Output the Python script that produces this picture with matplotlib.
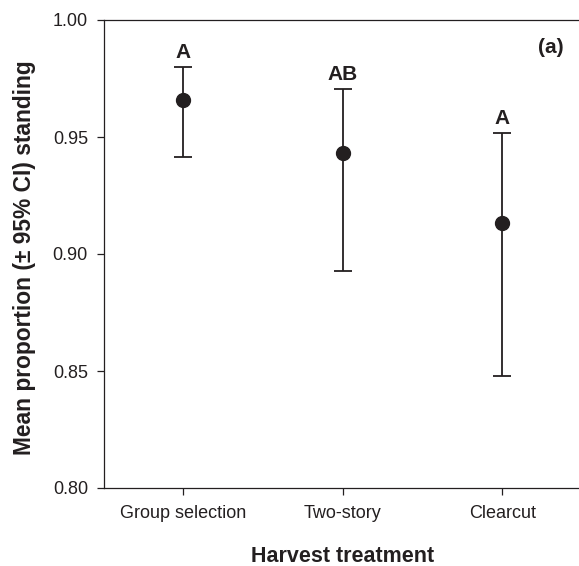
import matplotlib
matplotlib.use("Agg")
import matplotlib.pyplot as plt

plt.rcParams['font.family'] = ['Liberation Sans', 'DejaVu Sans']

categories = ["Group selection", "Two-story", "Clearcut"]
means = [0.9658, 0.9433, 0.9131]
ci_upper = [0.9800, 0.9707, 0.9518]
ci_lower = [0.9413, 0.8929, 0.8479]
letters = ["A", "AB", "A"]
yticks = [0.80, 0.85, 0.90, 0.95, 1.00]

color = "#231f20"
W, H = 579, 566
fig = plt.figure(figsize=(W / 100, H / 100), dpi=100)
left, right, top, bottom = 103.5, 582.0, 20.0, 488.0
ax = fig.add_axes([left / W, 1 - bottom / H, (right - left) / W, (bottom - top) / H])

x = list(range(1, len(categories) + 1))
yerr = [[m - lo for m, lo in zip(means, ci_lower)],
        [hi - m for m, hi in zip(means, ci_upper)]]
ax.errorbar(x, means, yerr=yerr, fmt='o', color=color, ecolor=color,
            markersize=10, elinewidth=1.3, capsize=6.7, capthick=1.3, zorder=3)

for xi, hi, lab in zip(x, ci_upper, letters):
    ax.annotate(lab, xy=(xi, hi), xytext=(0, 6.5), textcoords='offset points',
                ha='center', va='baseline', fontsize=15, fontweight='bold', color=color)

ax.set_xlim(0.5, 3.5)
ax.set_ylim(0.80, 1.00)
ax.set_xticks(x)
ax.set_xticklabels(categories)
ax.set_yticks(yticks)
ax.set_yticklabels([f"{v:.2f}" for v in yticks])

for s in ax.spines.values():
    s.set_linewidth(0.9)
    s.set_color(color)
ax.tick_params(axis='both', direction='out', length=4.7, width=0.9, color=color,
               labelsize=13, labelcolor=color)
ax.tick_params(axis='y', pad=6.5)
ax.tick_params(axis='x', pad=7.5)

fig.text(25 / W, 0.545, "Mean proportion (\u00b1 95% CI) standing", rotation=90,
         ha='center', va='center', fontsize=16.4, fontweight='bold', color=color)
fig.text(343 / W, 1 - 562 / H, "Harvest treatment", ha='center', va='baseline',
         fontsize=15.5, fontweight='bold', color=color)
fig.text(564 / W, 1 - 53.3 / H, "(a)", ha='right', va='baseline',
         fontsize=15, fontweight='bold', color=color)

fig.savefig("out.png", dpi=100)
